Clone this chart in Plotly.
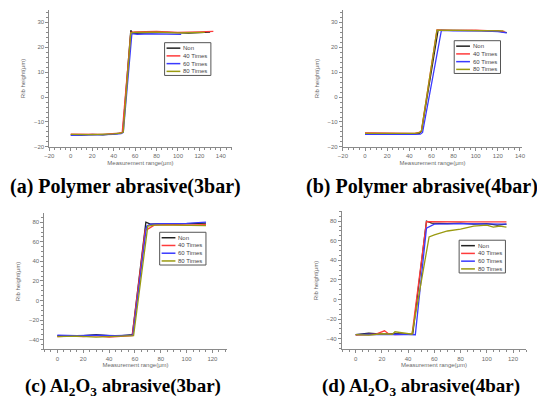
import plotly.graph_objects as go

# ---------------- data ----------------
series_names = ["Non", "40 Times", "60 Times", "80 Times"]
series_colors = ["#222222", "#ff3b3b", "#3a3aff", "#9a9a10"]

# (a) Polymer abrasive (3bar)
a_non_x = [0, 10, 20, 30, 40, 47, 48.5, 56, 58, 70, 90, 110, 130]
a_non_y = [-15.2, -15.3, -15, -15.2, -14.8, -14.5, -14, 26.8, 25.6, 25.8, 26, 25.7, 26.1]
a_40_x = [0, 15, 30, 45, 48, 56, 60, 80, 100, 120, 133]
a_40_y = [-14.9, -14.8, -15, -14.5, -14.2, 26, 26.2, 26.4, 26, 26.2, 26.4]
a_60_x = [0, 10, 20, 30, 40, 47, 49, 57, 62, 75, 90, 103]
a_60_y = [-15.4, -15.3, -15.5, -15.4, -15, -14.7, -14.2, 25.5, 25.2, 25.4, 25.3, 25.2]
a_80_x = [0, 20, 40, 47, 49, 56, 60, 80, 100, 125]
a_80_y = [-15, -15.1, -14.8, -14.5, -14, 25.8, 26, 26.1, 25.8, 26]

# (b) Polymer abrasive (4bar)
b_non_x = [0, 15, 30, 45, 49, 51, 66, 80, 100, 120, 128]
b_non_y = [-14.6, -14.8, -14.7, -14.8, -14.6, -13.8, 26.8, 26.8, 26.7, 26.6, 25.9]
b_40_x = [0, 15, 30, 45, 49, 51, 65, 80, 100, 120, 126]
b_40_y = [-14.4, -14.5, -14.3, -14.6, -14.2, -13.5, 27, 26.8, 26.9, 26.7, 26.4]
b_60_x = [0, 15, 30, 45, 50, 52, 69, 80, 100, 120, 128]
b_60_y = [-15, -15.1, -14.9, -15, -14.9, -14.2, 26.8, 26.6, 26.7, 26.3, 25.8]
b_80_x = [0, 15, 30, 45, 49, 51, 65, 80, 100, 120, 125]
b_80_y = [-14.6, -14.7, -14.5, -14.6, -14.3, -13.6, 26.9, 26.9, 26.8, 26.7, 26.6]

# (c) Al2O3 abrasive (3bar)
c_non_x = [0, 10, 20, 30, 40, 50, 58, 68.5, 72, 80, 90, 100, 110, 115]
c_non_y = [-36, -36.5, -36, -35, -36, -36, -35, 80, 78, 78.5, 78, 78.2, 78.5, 79]
c_40_x = [0, 10, 20, 30, 40, 50, 58, 68, 70, 75, 85, 100, 115]
c_40_y = [-37, -36.5, -37, -36, -37.5, -36.5, -36, 72, 73, 77, 77.5, 77, 77.5]
c_60_x = [0, 15, 30, 45, 58.5, 69, 72, 80, 100, 115]
c_60_y = [-35.5, -36, -35.5, -36, -35.5, 76, 78, 78.5, 78.8, 80]
c_80_x = [0, 15, 30, 45, 59, 70, 75, 90, 115]
c_80_y = [-37, -36.5, -37.5, -36.8, -36, 76, 77, 77, 76.5]

# (d) Al2O3 abrasive (4bar)
d_non_x = [0, 5, 10, 20, 30, 40, 43.5, 54, 58, 70, 80, 90, 100, 108, 115]
d_non_y = [-36, -35, -34.5, -35.5, -35, -35.5, -35.5, 80, 78, 77.5, 78, 77, 77.5, 76, 77]
d_40_x = [0, 8, 15, 22, 25, 30, 40, 43, 54, 70, 90, 115]
d_40_y = [-36.5, -36, -35.5, -32, -35, -36, -36, -35.5, 79.5, 79.2, 79.3, 79.3]
d_60_x = [0, 10, 20, 30, 40, 45.5, 54, 60, 80, 100, 115]
d_60_y = [-36, -35.5, -36, -35.5, -35.8, -36, 73, 77, 77.5, 77.2, 77]
d_80_x = [0, 10, 20, 28, 30, 40, 43, 56, 60, 70, 80, 90, 100, 105, 110, 115]
d_80_y = [-36, -36.5, -35, -35.5, -33, -35.5, -35.5, 64, 66, 70, 72, 75, 76, 74, 75, 74]

captions = [
    "(a) Polymer abrasive(3bar)",
    "(b) Polymer abrasive(4bar)",
    "(c) Al<sub>2</sub>O<sub>3</sub> abrasive(3bar)",
    "(d) Al<sub>2</sub>O<sub>3</sub> abrasive(4bar)",
]
panel_series = [
    [(a_non_x, a_non_y), (a_40_x, a_40_y), (a_60_x, a_60_y), (a_80_x, a_80_y)],
    [(b_non_x, b_non_y), (b_40_x, b_40_y), (b_60_x, b_60_y), (b_80_x, b_80_y)],
    [(c_non_x, c_non_y), (c_40_x, c_40_y), (c_60_x, c_60_y), (c_80_x, c_80_y)],
    [(d_non_x, d_non_y), (d_40_x, d_40_y), (d_60_x, d_60_y), (d_80_x, d_80_y)],
]

# ---------------- layout geometry (pixels) ----------------
W, H = 537, 406
x_px = [(45, 230), (343, 525), (40, 225), (342, 529)]
y_px = [(10, 148), (10, 148), (215, 352), (213, 352)]
x_ranges = [[-20, 150], [-20, 142], [-10, 131], [-10.5, 130]]
y_ranges = [[-20, 35], [-20, 35], [-50, 89], [-51, 90]]
y_dticks = [10, 10, 20, 20]
legend_box_px = [(162, 43), (456, 41), (157, 234), (461, 242)]
caption_px = [(122, 188), (423, 188), (120, 390), (422, 390)]
caption_size = [20, 20, 19, 19]


def px(xp):
    return xp / W


def py(yp):
    return 1 - yp / H


fig = go.Figure()
axis_gray = "#8a8a8a"
text_gray = "#6a6a6a"
small_font = "Arial, Liberation Sans, sans-serif"

layout = dict(
    width=W, height=H,
    margin=dict(l=0, r=0, t=0, b=0),
    paper_bgcolor="white", plot_bgcolor="white",
    showlegend=False,
    annotations=[], shapes=[],
)

for i in range(4):
    sfx = "" if i == 0 else str(i + 1)
    for (xs, ys), name, col in zip(panel_series[i], series_names, series_colors):
        fig.add_trace(go.Scatter(
            x=xs, y=ys, mode="lines", name=name,
            line=dict(color=col, width=1.3),
            xaxis="x" + sfx, yaxis="y" + sfx,
        ))
    common = dict(
        showgrid=False, zeroline=False, showline=True, linecolor=axis_gray, linewidth=1,
        ticks="outside", ticklen=3, tickcolor=axis_gray, tickwidth=1,
        tickfont=dict(size=6, color=text_gray, family=small_font),
        minor=dict(ticks="outside", ticklen=2, tickcolor=axis_gray),
        tick0=0,
    )
    (x0, x1), (y0, y1) = x_px[i], y_px[i]
    layout["xaxis" + sfx] = dict(
        common, domain=[px(x0), px(x1)], range=x_ranges[i], dtick=20,
        anchor="y" + sfx,
        title=dict(text="Measurement range(μm)", standoff=2,
                   font=dict(size=6, color=text_gray, family=small_font)),
    )
    layout["yaxis" + sfx] = dict(
        common, domain=[py(y1), py(y0)], range=y_ranges[i], dtick=y_dticks[i],
        anchor="x" + sfx,
        title=dict(text="Rib height(μm)", standoff=7,
                   font=dict(size=6, color=text_gray, family=small_font)),
    )

    # legend box (drawn by hand to match the compact original)
    lx, ly = legend_box_px[i]
    layout["shapes"].append(dict(
        type="rect", xref="paper", yref="paper",
        x0=px(lx), x1=px(lx + 47), y0=py(ly + 33), y1=py(ly),
        line=dict(color="#555555", width=1), fillcolor="white", layer="above",
    ))
    for k, (name, col) in enumerate(zip(series_names, series_colors)):
        yy = ly + 5.5 + 7.8 * k
        layout["shapes"].append(dict(
            type="line", xref="paper", yref="paper",
            x0=px(lx + 2), x1=px(lx + 16), y0=py(yy), y1=py(yy),
            line=dict(color=col, width=1.5), layer="above",
        ))
        layout["annotations"].append(dict(
            x=px(lx + 17), y=py(yy), xref="paper", yref="paper",
            xanchor="left", yanchor="middle", text=name, showarrow=False,
            font=dict(size=6, color="#444444", family=small_font),
        ))

    cx, cy = caption_px[i]
    layout["annotations"].append(dict(
        x=px(cx), y=py(cy), xref="paper", yref="paper", xanchor="center", yanchor="middle",
        text="<b>" + captions[i] + "</b>", showarrow=False,
        font=dict(size=caption_size[i], color="black",
                  family="Liberation Serif, Times New Roman, serif"),
    ))

fig.update_layout(**layout)
fig.write_html(
    "out.html",
    config={"displayModeBar": False},
    post_script="document.body.style.margin='0px';document.body.style.overflow='hidden';",
)
